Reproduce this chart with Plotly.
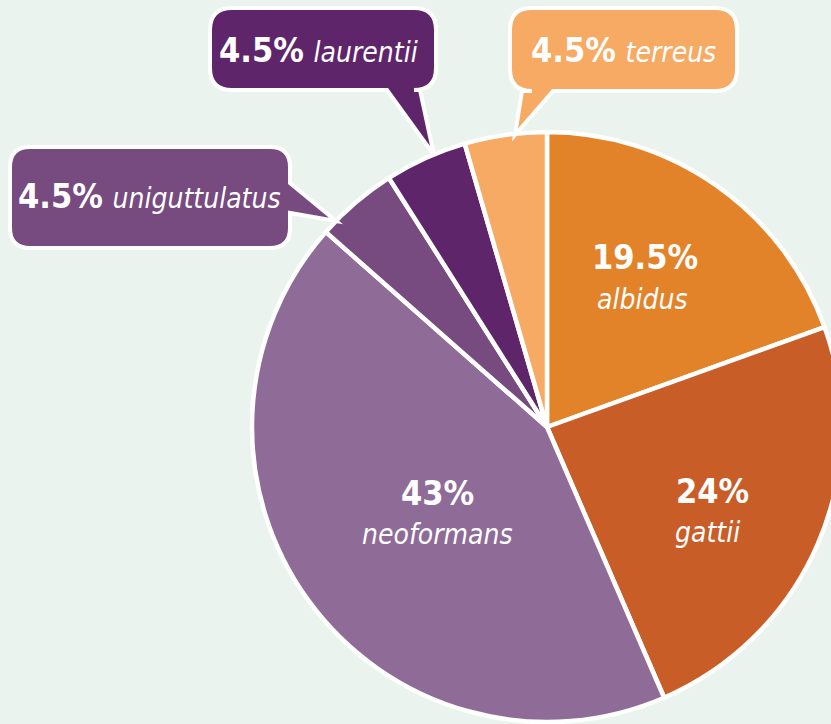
import plotly.graph_objects as go

# ---- data ----
species = ["albidus", "gattii", "neoformans", "uniguttulatus", "laurentii", "terreus"]
percent = [19.5, 24, 43, 4.5, 4.5, 4.5]
pct_labels = ["19.5%", "24%", "43%", "4.5%", "4.5%", "4.5%"]
colors = ["#E2832A", "#C95D28", "#8F6B98", "#774A80", "#5F256B", "#F7AA63"]

W, H = 845, 724
BG = "#EAF3EE"
FONT = "DejaVu Sans Condensed, Liberation Sans Narrow, Arial Narrow, sans-serif"
BOLD_SIZE = 34
ITAL_SIZE = 28

def px(x):
    return x / W

def py(y):
    return 1 - y / H

fig = go.Figure()
fig.add_trace(go.Pie(
    labels=species, values=percent, sort=False, direction="clockwise", rotation=0,
    marker=dict(colors=colors, line=dict(color="white", width=4.5)),
    textinfo="none", hoverinfo="skip", showlegend=False,
    domain=dict(x=[px(252), px(842)], y=[py(722), py(132)]),
))

def bubble(x0, y0, x1, y1, r, side, a, b, tip):
    pts = []
    def P(cmd, x, y):
        pts.append(f"{cmd}{px(x):.5f},{py(y):.5f}")
    P("M", x0 + r, y0)
    P("L", x1 - r, y0)
    pts.append(f"Q{px(x1):.5f},{py(y0):.5f} {px(x1):.5f},{py(y0 + r):.5f}")
    if side == "right":
        P("L", x1, a); P("L", tip[0], tip[1]); P("L", x1, b)
    P("L", x1, y1 - r)
    pts.append(f"Q{px(x1):.5f},{py(y1):.5f} {px(x1 - r):.5f},{py(y1):.5f}")
    if side == "bottom":
        P("L", b, y1); P("L", tip[0], tip[1]); P("L", a, y1)
    P("L", x0 + r, y1)
    pts.append(f"Q{px(x0):.5f},{py(y1):.5f} {px(x0):.5f},{py(y1 - r):.5f}")
    P("L", x0, y0 + r)
    pts.append(f"Q{px(x0):.5f},{py(y0):.5f} {px(x0 + r):.5f},{py(y0):.5f}")
    return " ".join(pts) + " Z"

callouts = {
    "uniguttulatus": dict(box=(10, 147, 290, 248, 20, "right", 183, 213, (336, 221)), text=(149, 196)),
    "laurentii": dict(box=(210, 8, 436, 90, 22, "bottom", 387, 420, (434, 155)), text=(318, 50)),
    "terreus": dict(box=(510, 8, 737, 91, 22, "bottom", 522, 553, (515, 135)), text=(623, 50)),
}

shapes = []
annotations = []
for name, spec in callouts.items():
    i = species.index(name)
    shapes.append(dict(type="path", xref="paper", yref="paper", path=bubble(*spec["box"]),
                       fillcolor=colors[i], line=dict(color="white", width=4), layer="above"))
    tx, ty = spec["text"]
    annotations.append(dict(
        x=px(tx), y=py(ty), xref="paper", yref="paper", showarrow=False,
        xanchor="center", yanchor="middle",
        text=f"<b>{pct_labels[i]}</b> <span style='font-size:{ITAL_SIZE}px'><i>{name}</i></span>",
        font=dict(family=FONT, size=BOLD_SIZE, color="white"),
    ))

inside = {
    "albidus": ((645, 257), (642, 300)),
    "gattii": ((712, 491), (707, 532)),
    "neoformans": ((438, 493), (438, 534)),
}
for name, (p1, p2) in inside.items():
    i = species.index(name)
    annotations.append(dict(x=px(p1[0]), y=py(p1[1]), xref="paper", yref="paper", showarrow=False,
                            xanchor="center", yanchor="middle", text=f"<b>{pct_labels[i]}</b>",
                            font=dict(family=FONT, size=BOLD_SIZE, color="white")))
    annotations.append(dict(x=px(p2[0]), y=py(p2[1]), xref="paper", yref="paper", showarrow=False,
                            xanchor="center", yanchor="middle", text=f"<i>{name}</i>",
                            font=dict(family=FONT, size=ITAL_SIZE, color="white")))

fig.update_layout(
    width=W, height=H, margin=dict(l=0, r=0, t=0, b=0),
    paper_bgcolor=BG, plot_bgcolor=BG,
    shapes=shapes, annotations=annotations,
)

fig.write_html("out.html", config={"displayModeBar": False},
               post_script="document.body.style.margin='0px';document.body.style.overflow='hidden';")
